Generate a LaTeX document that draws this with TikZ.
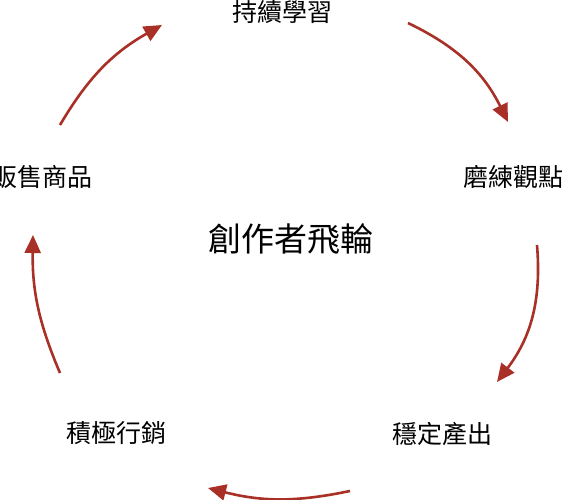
\documentclass[tikz,border=0pt]{standalone}
\usepackage{fontspec}
\setmainfont{Noto Sans CJK TC}
\usetikzlibrary{arrows.meta}
\definecolor{arrowred}{RGB}{168,48,38}
\tikzset{
  lbl/.style={inner sep=0pt, font=\fontsize{25}{28}\selectfont, text=black},
  ctr/.style={inner sep=0pt, font=\fontsize{33}{36}\selectfont, text=black},
  flow/.style={draw=arrowred, line width=2.6pt, -{Triangle[length=18pt,width=16pt]}}
}
\begin{document}
\begin{tikzpicture}[x=1pt,y=1pt]
\useasboundingbox[fill=white] (0,0) rectangle (562,500);
\node[lbl] (learn) at (282,488) {持續學習};
\node[lbl] (view)  at (513,323) {磨練觀點};
\node[lbl] (out)   at (442,66)  {穩定產出};
\node[lbl] (mkt)   at (116,67)  {積極行銷};
\node[lbl] (sell)  at (42,323)  {販售商品};
\node[ctr] (core)  at (291,261) {創作者飛輪};
\coordinate (a1s) at (408,477); \coordinate (a1e) at (508,378);
\coordinate (a2s) at (537,255); \coordinate (a2e) at (497,118);
\coordinate (a3s) at (350,9);   \coordinate (a3e) at (208,12);
\coordinate (a4s) at (60,127);  \coordinate (a4e) at (33,265);
\coordinate (a5s) at (60,375);  \coordinate (a5e) at (162,475);
\draw[flow] (a1s) to[bend left=19] (a1e);
\draw[flow] (a2s) to[bend left=21] (a2e);
\draw[flow] (a3s) to[bend left=13] (a3e);
\draw[flow] (a4s) to[bend left=12] (a4e);
\draw[flow] (a5s) to[bend left=15] (a5e);
\end{tikzpicture}
\end{document}
